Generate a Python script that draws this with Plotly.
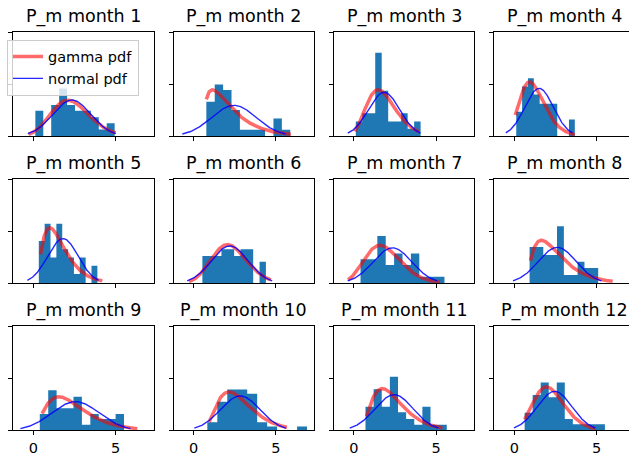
import math
import numpy as np
import plotly.graph_objects as go

# ---------------- data ----------------
months = [1, 2, 3, 4, 5, 6, 7, 8, 9, 10, 11, 12]
titles = [f"P_m month {m}" for m in months]

# histogram: left edge of first bin, bin width, density heights (10 bins)
hist_start = [0.12, 0.77, 0.11, 0.12, 0.33, 0.53, 0.40, 0.93, 0.39, 0.83, 0.70, 0.63]
hist_width = [0.482, 0.51, 0.394, 0.356, 0.356, 0.386, 0.51, 0.417, 0.512, 0.606, 0.494, 0.488]
hist_heights = [
    [0.244, 0.0, 0.30, 0.457, 0.30, 0.244, 0.244, 0.18, 0.063, 0.124],
    [0.33, 0.495, 0.444, 0.25, 0.06, 0.06, 0.06, 0.0, 0.17, 0.06],
    [0.14, 0.22, 0.22, 0.80, 0.435, 0.14, 0.14, 0.22, 0.07, 0.14],
    [0.235, 0.476, 0.556, 0.40, 0.31, 0.31, 0.31, 0.0, 0.0, 0.16],
    [0.406, 0.571, 0.248, 0.571, 0.327, 0.248, 0.089, 0.248, 0.0, 0.168],
    [0.263, 0.263, 0.263, 0.327, 0.327, 0.263, 0.327, 0.327, 0.0, 0.206],
    [0.232, 0.232, 0.454, 0.175, 0.286, 0.175, 0.286, 0.063, 0.063, 0.063],
    [0.349, 0.349, 0.273, 0.273, 0.549, 0.079, 0.079, 0.206, 0.146, 0.146],
    [0.159, 0.387, 0.213, 0.213, 0.324, 0.054, 0.159, 0.111, 0.111, 0.159],
    [0.079, 0.275, 0.393, 0.393, 0.354, 0.079, 0.039, 0.0, 0.0, 0.039],
    [0.229, 0.397, 0.229, 0.517, 0.175, 0.111, 0.054, 0.229, 0.054, 0.054],
    [0.17, 0.34, 0.46, 0.32, 0.46, 0.11, 0.06, 0.06, 0.06, 0.06],
]

# fitted normal pdf parameters
norm_mu = [2.34, 2.45, 1.83, 1.51, 1.80, 2.19, 2.34, 2.61, 2.56, 2.83, 2.44, 2.45]
norm_sigma = [1.15, 1.35, 0.95, 0.87, 0.93, 1.11, 1.17, 1.155, 1.44, 1.20, 1.16, 1.06]

# fitted gamma pdf: shape, mode, peak density, drawn x-range
gamma_shape = [25, 1.5, 8, 8, 2.4, 40, 15, 2, 2.8, 3.5, 3, 12]
gamma_mode = [2.1, 1.14, 1.47, 0.93, 1.0, 2.05, 1.58, 1.65, 1.54, 2.15, 1.72, 1.95]
gamma_peak = [0.345, 0.444, 0.445, 0.52, 0.533, 0.372, 0.365, 0.413, 0.324, 0.371, 0.403, 0.419]
gamma_x0 = [-0.29, 0.77, 0.05, 0.06, 0.43, -0.28, -0.36, 0.98, 0.53, 0.93, 0.76, 0.63]
gamma_x1 = [5.0, 5.91, 3.96, 3.68, 4.19, 4.69, 5.23, 5.98, 6.32, 5.67, 5.38, 4.94]

x_ticks = [0, 5]
y_ticks = [0, 0.5, 1.0]

# ---------------- layout geometry ----------------
W, H = 629, 456
col_left = [13.3 + 160.3 * i for i in range(4)]
ax_w = 140.5
row_top = [32.3 + 148.5 * j for j in range(3)]
ax_h = 105.0
x_min, x_max = -1.22, 7.32
y_min, y_max = 0.0, 1.0

BAR = "#1f77b4"
FONT = "DejaVu Sans"


def gamma_pdf(x, a, mode, peak):
    lg = (a - 1) * math.log(a - 1) - (a - 1) - math.lgamma(a) if a > 1 else 0.0
    s = math.exp(lg) / peak
    loc = mode - (a - 1) * s
    t = np.clip((x - loc) / s, 1e-12, None)
    return np.exp((a - 1) * np.log(t) - t - math.lgamma(a) - math.log(s))


def norm_pdf(x, mu, sd):
    return np.exp(-0.5 * ((x - mu) / sd) ** 2) / (sd * math.sqrt(2 * math.pi))


def hist_outline(start, width, heights):
    """Step outline of a histogram (bin edges and densities) as a polygon."""
    n = len(heights)
    edges = start + np.arange(n + 1) * width
    xs = [edges[0]]
    ys = [0.0]
    for i in range(n):
        xs += [edges[i], edges[i + 1]]
        ys += [heights[i], heights[i]]
    xs.append(edges[-1])
    ys.append(0.0)
    return xs, ys


fig = go.Figure()
annotations = []
px_per_unit = ax_w / (x_max - x_min)

for k in range(12):
    r, c = divmod(k, 4)
    idx = k + 1
    xa = "x" if idx == 1 else f"x{idx}"
    ya = "y" if idx == 1 else f"y{idx}"

    # histogram (filled step polygon, no seams between bins)
    hx, hy = hist_outline(hist_start[k], hist_width[k], hist_heights[k])
    fig.add_trace(go.Scatter(x=hx, y=hy, mode="lines", fill="toself",
                             fillcolor=BAR, line=dict(width=0, color=BAR),
                             showlegend=False, hoverinfo="skip",
                             xaxis=xa, yaxis=ya))

    # gamma pdf
    gx = np.linspace(gamma_x0[k], gamma_x1[k], 200)
    gy = gamma_pdf(gx, gamma_shape[k], gamma_mode[k], gamma_peak[k])
    fig.add_trace(go.Scatter(x=gx, y=gy, mode="lines", name="gamma pdf",
                             line=dict(color="rgba(255,0,0,0.58)", width=3.5),
                             showlegend=(k == 0), legendgroup="g",
                             xaxis=xa, yaxis=ya))

    # normal pdf
    mu, sd = norm_mu[k], norm_sigma[k]
    nx = np.linspace(mu - 2.326 * sd, mu + 2.326 * sd, 200)
    ny = norm_pdf(nx, mu, sd)
    fig.add_trace(go.Scatter(x=nx, y=ny, mode="lines", name="normal pdf",
                             line=dict(color="rgba(0,0,255,0.85)", width=1.4),
                             showlegend=(k == 0), legendgroup="n",
                             xaxis=xa, yaxis=ya))

    left = col_left[c]
    right = min(left + ax_w, W)
    top = row_top[r]
    bottom = top + ax_h
    xr_max = x_min + (right - left) / px_per_unit

    xkey = "xaxis" if idx == 1 else f"xaxis{idx}"
    ykey = "yaxis" if idx == 1 else f"yaxis{idx}"
    fig.layout[xkey] = dict(
        domain=[left / W, right / W], range=[x_min, xr_max], anchor=ya,
        showgrid=False, zeroline=False, showline=True, mirror=True,
        linecolor="black", linewidth=1, ticks="outside", ticklen=4,
        tickwidth=1, tickcolor="black", tickvals=x_ticks,
        showticklabels=(r == 2),
        tickfont=dict(family=FONT, size=14.5, color="black"),
        fixedrange=True,
    )
    fig.layout[ykey] = dict(
        domain=[1 - bottom / H, 1 - top / H], range=[y_min, y_max], anchor=xa,
        showgrid=False, zeroline=False, showline=True,
        mirror=(c != 3), linecolor="black", linewidth=1,
        ticks="outside", ticklen=4, tickwidth=1, tickcolor="black",
        tickvals=y_ticks, showticklabels=False, fixedrange=True,
    )

    annotations.append(dict(
        text=titles[k], xref="paper", yref="paper",
        x=(left + ax_w / 2) / W, y=1 - top / H,
        xanchor="center", yanchor="bottom", yshift=3, showarrow=False,
        font=dict(family=FONT, size=17.5, color="black"),
    ))

fig.update_layout(
    width=W, height=H, autosize=False,
    margin=dict(l=0, r=0, t=0, b=0, pad=0),
    paper_bgcolor="white", plot_bgcolor="white",
    annotations=annotations,
    showlegend=True,
    legend=dict(x=7 / W, y=1 - 40 / H, xanchor="left", yanchor="top",
                bgcolor="rgba(255,255,255,0.8)", bordercolor="#cccccc",
                borderwidth=1, font=dict(family=FONT, size=14.5, color="black"),
                traceorder="normal", tracegroupgap=0),
    font=dict(family=FONT, color="black"),
)

fig.write_html("out.html")
